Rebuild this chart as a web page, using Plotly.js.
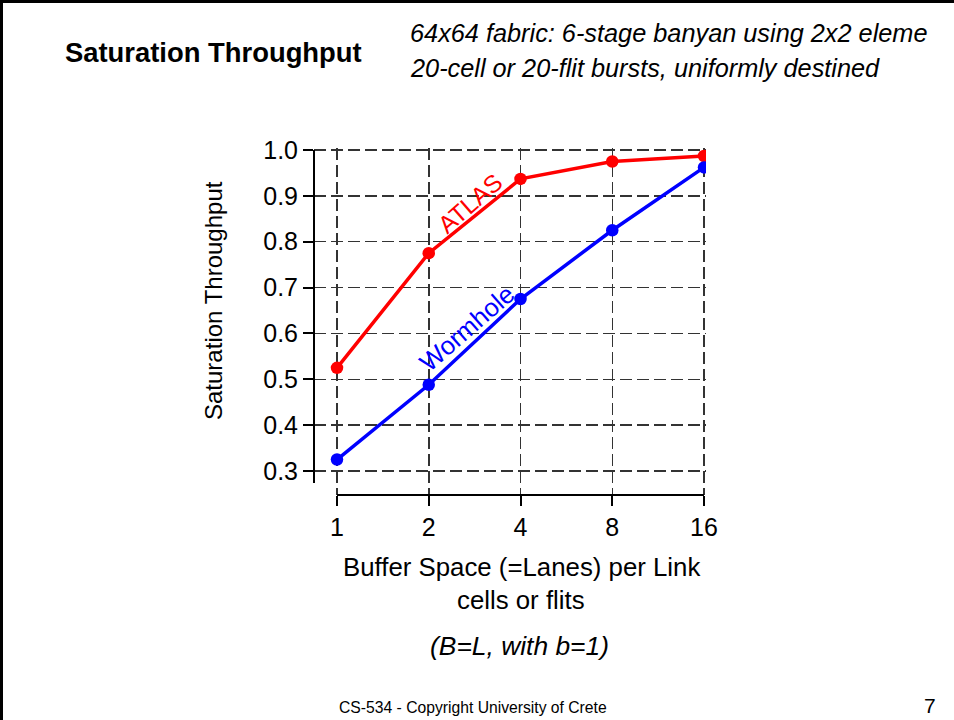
<!DOCTYPE html>
<html>
<head>
<meta charset="utf-8">
<script src="https://cdn.plot.ly/plotly-3.0.1.min.js"></script>
<style>
html,body{margin:0;padding:0;background:#fff;}
#chart{width:954px;height:720px;}
</style>
</head>
<body>
<div id="chart"></div>
<script>
// ---- data ----
const bufferSpace = [1, 2, 4, 8, 16];
const xTickLabels = ["1", "2", "4", "8", "16"];
const atlasThroughput = [0.525, 0.775, 0.937, 0.975, 0.987];
const wormholeThroughput = [0.325, 0.488, 0.675, 0.825, 0.962];
const yTickValues = [0.3, 0.4, 0.5, 0.6, 0.7, 0.8, 0.9, 1.0];
const yTickLabels = ["0.3", "0.4", "0.5", "0.6", "0.7", "0.8", "0.9", "1.0"];

// ---- layout helpers (pixel -> paper) ----
const L = 314, R = 706, T = 148, B = 495;
const W = 954, H = 720;
const px = p => (p - L) / (R - L);
const py = p => (B - p) / (B - T);
const FONT = "Liberation Sans, Arial, Helvetica, sans-serif";
const pxPerDecadeX = 91.75 / Math.log10(2);
const pxPerUnitY = 458.6;

const traces = [
  {
    x: bufferSpace, y: atlasThroughput, name: "ATLAS",
    type: "scatter", mode: "lines+markers",
    line: {color: "#ff0000", width: 3.5},
    marker: {color: "#ff0000", size: 12.5}
  },
  {
    x: bufferSpace, y: wormholeThroughput, name: "Wormhole",
    type: "scatter", mode: "lines+markers",
    line: {color: "#0000ff", width: 3.5},
    marker: {color: "#0000ff", size: 12.5}
  }
];

const gridStyle = {showgrid: true, gridcolor: "#333333", gridwidth: 1.5, griddash: "12px,5px"};

const layout = {
  width: W, height: H,
  margin: {l: L, r: W - R, t: T, b: H - B, pad: 0},
  paper_bgcolor: "#ffffff", plot_bgcolor: "#ffffff",
  showlegend: false,
  font: {family: FONT, color: "#000000"},
  xaxis: Object.assign({
    type: "log",
    range: [-23 / pxPerDecadeX, Math.log10(16) + 2 / pxPerDecadeX],
    tickvals: bufferSpace, ticktext: xTickLabels,
    ticks: "outside", ticklen: 10, tickwidth: 2, tickcolor: "#000",
    tickfont: {size: 25, family: FONT, color: "#000"},
    showline: false, zeroline: false, fixedrange: true
  }, gridStyle),
  yaxis: Object.assign({
    range: [0.3 - 24 / pxPerUnitY, 1.0 + 2 / pxPerUnitY],
    tickvals: yTickValues, ticktext: yTickLabels,
    ticks: "outside", ticklen: 10, tickwidth: 2, tickcolor: "#000",
    tickfont: {size: 25, family: FONT, color: "#000"},
    showline: false, zeroline: false, fixedrange: true
  }, gridStyle),
  shapes: [
    // axis lines (detached style)
    {type: "line", xref: "paper", yref: "y", x0: 0, x1: 0, y0: 0.274, y1: 1.0,
     line: {color: "#000", width: 2}},
    {type: "line", xref: "x", yref: "paper", x0: 1, x1: 16, y0: 0, y1: 0,
     line: {color: "#000", width: 2}},
    // slide frame (top and left edges)
    {type: "line", xref: "paper", yref: "paper", x0: px(0), x1: px(W), y0: py(1.5), y1: py(1.5),
     line: {color: "#000", width: 3}},
    {type: "line", xref: "paper", yref: "paper", x0: px(1.5), x1: px(1.5), y0: py(0), y1: py(H),
     line: {color: "#000", width: 3}}
  ],
  annotations: [
    {text: "<b>Saturation Throughput</b>", xref: "paper", yref: "paper",
     x: px(63), y: py(52), xanchor: "left", yanchor: "middle", showarrow: false,
     font: {size: 27.4, family: FONT, color: "#000"}},
    {text: "<i>64x64 fabric: 6-stage banyan using 2x2 eleme</i>", xref: "paper", yref: "paper",
     x: px(408), y: py(33), xanchor: "left", yanchor: "middle", showarrow: false,
     font: {size: 25.3, family: FONT, color: "#000"}},
    {text: "<i>20-cell or 20-flit bursts, uniformly destined</i>", xref: "paper", yref: "paper",
     x: px(408), y: py(68), xanchor: "left", yanchor: "middle", showarrow: false,
     font: {size: 25.3, family: FONT, color: "#000"}},
    {text: "Saturation Throughput", xref: "paper", yref: "paper",
     x: px(213), y: py(301), xanchor: "center", yanchor: "middle", textangle: -90, showarrow: false,
     font: {size: 24, family: FONT, color: "#000"}},
    {text: "Buffer Space (=Lanes) per Link", xref: "paper", yref: "paper",
     x: px(521), y: py(567), xanchor: "center", yanchor: "middle", showarrow: false,
     font: {size: 25.8, family: FONT, color: "#000"}},
    {text: "cells or flits", xref: "paper", yref: "paper",
     x: px(521), y: py(600), xanchor: "center", yanchor: "middle", showarrow: false,
     font: {size: 25.8, family: FONT, color: "#000"}},
    {text: "<i>(B=L, with b=1)</i>", xref: "paper", yref: "paper",
     x: px(519), y: py(646), xanchor: "center", yanchor: "middle", showarrow: false,
     font: {size: 26.4, family: FONT, color: "#000"}},
    {text: "CS-534 - Copyright University of Crete", xref: "paper", yref: "paper",
     x: px(473), y: py(707), xanchor: "center", yanchor: "middle", showarrow: false,
     font: {size: 15.7, family: FONT, color: "#000"}},
    {text: "7", xref: "paper", yref: "paper",
     x: px(930), y: py(705), xanchor: "center", yanchor: "middle", showarrow: false,
     font: {size: 21, family: FONT, color: "#000"}},
    {text: "ATLAS", xref: "paper", yref: "paper",
     x: px(470), y: py(203), xanchor: "center", yanchor: "middle", textangle: -41, showarrow: false,
     font: {size: 24.5, family: FONT, color: "#ff0000"}},
    {text: "Wormhole", xref: "paper", yref: "paper",
     x: px(467), y: py(328), xanchor: "center", yanchor: "middle", textangle: -41, showarrow: false,
     font: {size: 25.5, family: FONT, color: "#0000ff"}}
  ]
};

Plotly.newPlot("chart", traces, layout, {staticPlot: true, displayModeBar: false});
</script>
</body>
</html>
